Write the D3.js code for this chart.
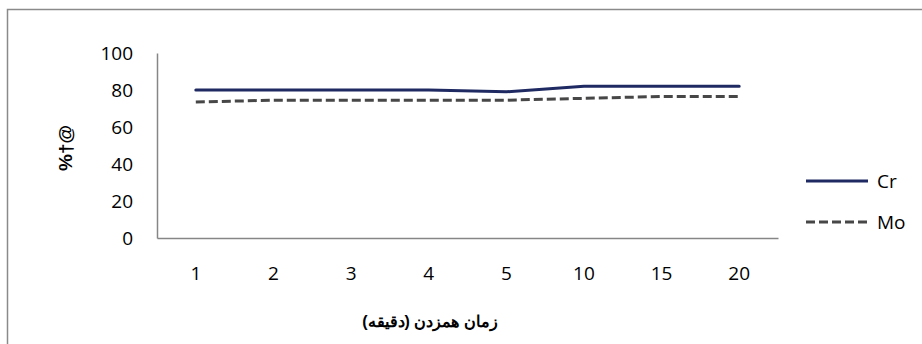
<!DOCTYPE html>
<html>
<head>
<meta charset="utf-8">
<script src="https://cdn.jsdelivr.net/npm/d3@7"></script>
<style>
  html, body { margin: 0; padding: 0; background: #fff; }
  svg { display: block; }
</style>
</head>
<body>
<svg id="chart" width="922" height="344"></svg>
<script>
// Mixing time categories (minutes)
const categories = ["1", "2", "3", "4", "5", "10", "15", "20"];
// Recovery (%) per element
const crValues = [80, 80, 80, 80, 79, 82, 82, 82];
const moValues = [73.5, 74.5, 74.5, 74.5, 74.5, 75.5, 76.5, 76.5];
const yTicks = [0, 20, 40, 60, 80, 100];
const seriesNames = ["Cr", "Mo"];
const xTitle = "زمان همزدن (دقیقه)";
const yTitle = "%†@";

const svg = d3.select("#chart");
const font = "'Open Sans', 'Liberation Sans', Arial, sans-serif";
const labelSize = 19;

// outer frame
svg.append("rect")
  .attr("x", 7.5).attr("y", 9.5)
  .attr("width", 930).attr("height", 350)
  .attr("fill", "none").attr("stroke", "#8a8a8a").attr("stroke-width", 1.5);

const plot = { left: 157, right: 778, top: 53, bottom: 238 };

const x = d3.scaleBand().domain(categories).range([plot.left, plot.right]);
const y = d3.scaleLinear().domain([0, 100]).range([plot.bottom, plot.top]);

// axes
const axisColor = "#868686";
const xAxis = svg.append("g").attr("transform", `translate(0,${plot.bottom})`)
  .call(d3.axisBottom(x).tickSize(0).tickPadding(29));
xAxis.select(".domain").attr("stroke", axisColor).attr("stroke-width", 1.5);
xAxis.selectAll("text").attr("font-family", font).attr("font-size", labelSize).attr("fill", "#000");

const yAxis = svg.append("g").attr("transform", `translate(${plot.left},0)`)
  .call(d3.axisLeft(y).tickValues(yTicks).tickSize(0).tickPadding(24));
yAxis.select(".domain").attr("stroke", axisColor).attr("stroke-width", 1.5);
yAxis.selectAll("text").attr("font-family", font).attr("font-size", labelSize).attr("fill", "#000");

const cx = d => x(d) + x.bandwidth() / 2;
const line = d3.line().x((d, i) => cx(categories[i])).y(d => y(d));

const styles = [
  { color: "#1f2a63", dash: null, data: crValues },
  { color: "#474747", dash: "9,4", data: moValues }
];

styles.forEach(s => {
  svg.append("path").datum(s.data)
    .attr("d", line)
    .attr("fill", "none")
    .attr("stroke", s.color)
    .attr("stroke-width", 3)
    .attr("stroke-dasharray", s.dash)
    .attr("stroke-linecap", s.dash ? "butt" : "round");
});

// legend
const legendY = [181, 222];
seriesNames.forEach((name, i) => {
  const s = styles[i];
  svg.append("line")
    .attr("x1", 806).attr("x2", 868)
    .attr("y1", legendY[i]).attr("y2", legendY[i])
    .attr("stroke", s.color).attr("stroke-width", 3)
    .attr("stroke-dasharray", s.dash);
  svg.append("text")
    .attr("x", 877).attr("y", legendY[i])
    .attr("dy", "0.35em")
    .attr("font-family", font).attr("font-size", labelSize)
    .text(name);
});

// axis titles
svg.append("text")
  .attr("x", 430).attr("y", 327)
  .attr("text-anchor", "middle")
  .attr("font-family", "'Liberation Sans', Arial, sans-serif")
  .attr("font-size", 16).attr("font-weight", "bold")
  .attr("direction", "rtl")
  .text(xTitle);

svg.append("text")
  .attr("transform", "translate(72,148) rotate(-90)")
  .attr("text-anchor", "middle")
  .attr("font-family", "'Liberation Sans', Arial, sans-serif")
  .attr("font-size", 19).attr("font-weight", "bold")
  .text(yTitle);
</script>
</body>
</html>
